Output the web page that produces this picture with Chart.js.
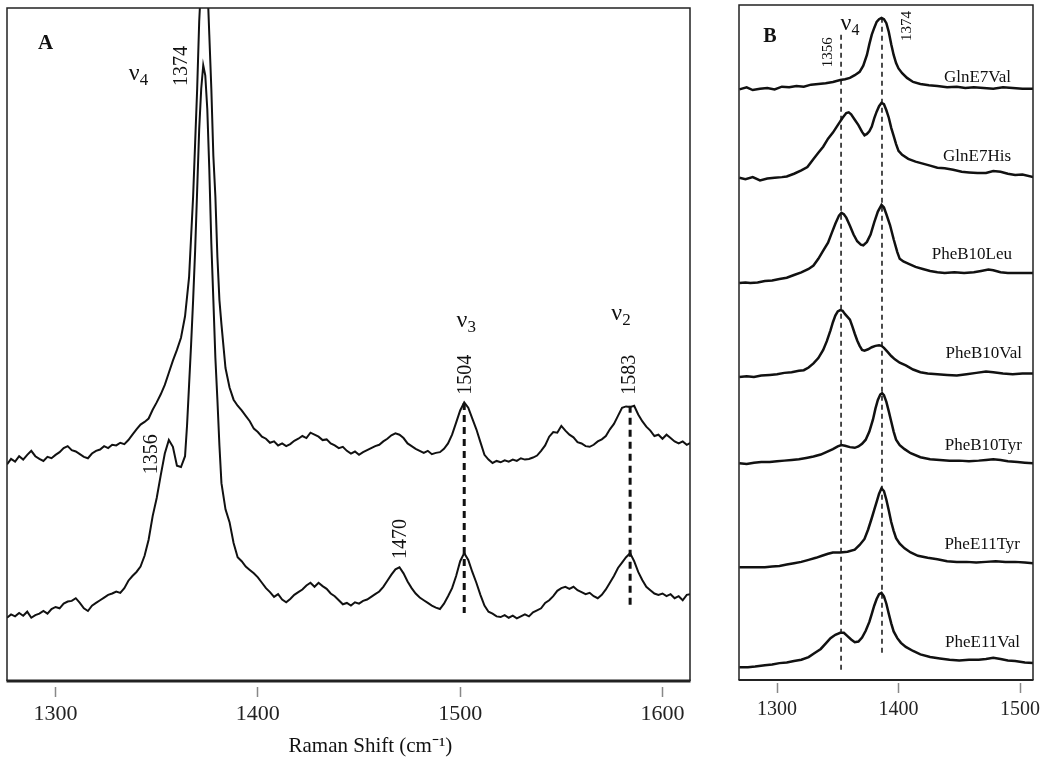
<!DOCTYPE html>
<html>
<head>
<meta charset="utf-8">
<script src="https://cdn.jsdelivr.net/npm/chart.js@4.4.1/dist/chart.umd.min.js"></script>
<style>
    body { margin: 0; background: #fff; }
    canvas { position: absolute; top: 0; }
</style>
</head>
<body>
<canvas id="chartA" width="700" height="768" style="left:0"></canvas>
<canvas id="chartB" width="350" height="768" style="left:700px"></canvas>
<script>
// --------------------------------------------------
//  DATA (Raman shift cm-1, intensity arbitrary units)
// --------------------------------------------------
const ticksA = [1300, 1400, 1500, 1600];
const ticksB = [1300, 1400, 1500];

// Panel A: upper spectrum
const upperSpectrum = [
    [1276,32.2],[1278,33.0],[1280,32.6],[1282,33.4],[1284,32.9],[1286,33.6],[1288,34.2],[1290,33.4],
    [1292,33.0],[1294,32.7],[1296,33.3],[1298,33.1],[1300,33.6],[1302,34.0],[1304,34.6],[1306,34.9],
    [1308,34.3],[1310,34.1],[1312,33.7],[1314,33.3],[1316,33.1],[1318,33.8],[1320,34.2],[1322,34.4],
    [1324,34.9],[1326,34.6],[1328,35.1],[1330,35.0],[1332,35.4],[1334,35.2],[1336,35.8],[1338,36.6],
    [1340,37.4],[1342,38.1],[1344,38.5],[1346,39.0],[1348,40.3],[1350,41.4],[1352,42.6],[1354,44.0],
    [1356,45.8],[1358,47.6],[1360,49.2],[1362,51.0],[1364,54.2],[1366,60.0],[1367,66.0],[1368,72.0],
    [1369,80.0],[1370,88.0],[1371,98.0],[1372,104],[1373,106],[1374,106],[1375,104],[1376,96],
    [1377,88],[1378,78],[1379,72],[1380,63],[1381,56.6],[1382,53.0],[1384,46.5],[1386,43.6],
    [1388,41.8],[1390,40.9],[1392,40.2],[1394,39.4],[1396,38.6],[1398,37.5],[1400,37.0],[1402,36.3],
    [1404,36.0],[1406,35.4],[1408,35.6],[1410,35.0],[1412,35.3],[1414,34.9],[1416,35.2],[1418,35.7],
    [1420,36.0],[1422,36.4],[1424,36.1],[1426,36.9],[1428,36.6],[1430,36.3],[1432,35.8],[1434,35.9],
    [1436,35.3],[1438,35.0],[1440,34.6],[1442,34.8],[1444,34.2],[1446,33.8],[1448,34.1],[1450,33.6],
    [1452,34.0],[1454,34.3],[1456,34.6],[1458,34.9],[1460,35.1],[1462,35.6],[1464,36.0],[1466,36.5],
    [1468,36.8],[1470,36.6],[1472,36.1],[1474,35.3],[1476,34.9],[1478,34.5],[1480,34.2],[1482,33.9],
    [1484,34.2],[1486,33.7],[1488,33.9],[1490,34.0],[1492,34.5],[1494,35.3],[1496,36.6],[1498,38.4],
    [1500,40.2],[1502,41.4],[1504,40.6],[1506,39.0],[1508,37.4],[1510,35.5],[1512,33.6],[1514,32.9],
    [1516,32.4],[1518,32.7],[1520,32.5],[1522,32.8],[1524,32.6],[1526,32.9],[1528,32.7],[1530,33.1],
    [1532,32.9],[1534,33.0],[1536,33.2],[1538,33.5],[1540,34.2],[1542,35.0],[1544,36.3],[1546,37.0],
    [1548,36.9],[1550,37.9],[1552,37.2],[1554,36.6],[1556,36.2],[1558,35.5],[1560,35.3],[1562,34.9],
    [1564,34.8],[1566,35.1],[1568,35.6],[1570,35.9],[1572,36.4],[1574,37.4],[1576,38.2],[1578,39.4],
    [1580,40.6],[1582,40.8],[1584,40.7],[1586,40.9],[1588,39.6],[1590,38.6],[1592,37.8],[1594,37.2],
    [1596,36.4],[1598,36.6],[1600,36.0],[1602,36.6],[1604,36.1],[1606,35.6],[1608,35.3],[1610,35.6],
    [1612,35.1],[1614,35.4]
];

// Panel A: lower spectrum
const lowerSpectrum = [
    [1276,9.4],[1278,9.9],[1280,9.6],[1282,10.1],[1284,9.7],[1286,10.3],[1288,9.4],[1290,9.8],
    [1292,10.0],[1294,10.4],[1296,10.0],[1298,10.7],[1300,11.0],[1302,10.8],[1304,11.5],[1306,11.8],
    [1308,11.9],[1310,12.3],[1312,11.6],[1314,10.8],[1316,10.4],[1318,11.2],[1320,11.6],[1322,12.0],
    [1324,12.4],[1326,12.8],[1328,13.0],[1330,13.3],[1332,13.1],[1334,13.8],[1336,14.9],[1338,15.6],
    [1340,16.2],[1342,17.0],[1344,18.6],[1346,21.0],[1348,24.5],[1350,27.2],[1352,30.6],[1354,33.8],
    [1356,35.8],[1358,34.8],[1360,32.0],[1362,31.8],[1364,33.4],[1365,38.0],[1366,44.0],[1367,50.0],
    [1368,56.6],[1369,64.0],[1370,73.0],[1371,82.0],[1372,88.0],[1373,91.5],[1374,90.0],[1375,85.0],
    [1376,76.0],[1377,65.0],[1378,56.6],[1379,48.0],[1380,41.8],[1381,35.0],[1382,29.4],[1384,25.5],
    [1386,23.6],[1388,20.5],[1390,18.4],[1392,17.8],[1394,17.0],[1396,16.5],[1398,16.0],[1400,15.4],
    [1402,14.6],[1404,13.8],[1406,13.2],[1408,12.5],[1410,12.9],[1412,12.1],[1414,11.7],[1416,12.2],
    [1418,12.8],[1420,13.2],[1422,13.6],[1424,14.2],[1426,14.6],[1428,14.0],[1430,14.6],[1432,14.1],
    [1434,13.7],[1436,13.0],[1438,12.6],[1440,12.0],[1442,11.4],[1444,11.6],[1446,11.2],[1448,11.7],
    [1450,11.5],[1452,11.9],[1454,12.1],[1456,12.5],[1458,12.9],[1460,13.3],[1462,14.0],[1464,14.9],
    [1466,15.8],[1468,16.6],[1470,16.9],[1472,16.0],[1474,14.8],[1476,13.8],[1478,13.0],[1480,12.4],
    [1482,12.0],[1484,11.6],[1486,11.2],[1488,10.9],[1490,10.7],[1492,11.5],[1494,12.6],[1496,13.8],
    [1498,15.6],[1500,17.8],[1502,19.0],[1504,18.0],[1506,16.2],[1508,14.6],[1510,12.8],[1512,11.2],
    [1514,10.3],[1516,10.0],[1518,9.6],[1520,9.5],[1522,9.8],[1524,9.4],[1526,9.7],[1528,9.3],
    [1530,9.6],[1532,9.9],[1534,9.6],[1536,10.2],[1538,10.5],[1540,10.8],[1542,11.6],[1544,12.0],
    [1546,12.6],[1548,13.4],[1550,13.8],[1552,14.0],[1554,13.7],[1556,14.0],[1558,13.5],[1560,13.2],
    [1562,12.9],[1564,13.1],[1566,12.6],[1568,12.3],[1570,12.8],[1572,13.6],[1574,14.6],[1576,15.6],
    [1578,16.8],[1580,17.6],[1582,18.4],[1584,19.0],[1586,17.8],[1588,16.2],[1590,15.0],[1592,14.0],
    [1594,13.5],[1596,13.0],[1598,12.8],[1600,13.0],[1602,12.6],[1604,12.9],[1606,12.3],[1608,12.6],
    [1610,12.0],[1612,12.8],[1614,12.9]
];

// band markers: shift, top and bottom intensity
const markersA = [[1502, 41.3, 10.1], [1584, 40.9, 11.0]];
const markersB = [[1352.7, 95.6, 1.0], [1386.4, 98.1, 3.7]];

// Panel B spectra
const glnE7Val = [
    [1269,87.5],[1275,87.8],[1280,87.4],[1286,87.6],[1292,87.7],[1298,87.5],[1304,87.9],[1310,87.8],
    [1316,88.0],[1322,87.9],[1328,88.2],[1334,88.3],[1340,88.4],[1346,88.6],[1352,88.9],[1356,89.0],
    [1360,89.2],[1364,89.6],[1368,90.1],[1371,91.0],[1374,92.6],[1376,94.2],[1378,95.6],[1380,96.6],
    [1382,97.5],[1384,97.9],[1386,98.1],[1388,97.9],[1390,97.3],[1392,96.0],[1394,94.2],[1396,92.6],
    [1398,91.4],[1400,90.6],[1403,89.9],[1407,89.2],[1412,88.6],[1418,88.3],[1425,88.1],[1432,88.0],
    [1440,87.8],[1448,87.9],[1455,87.7],[1462,87.8],[1470,87.7],[1478,87.6],[1486,87.8],[1494,87.7],
    [1502,87.6],[1511,87.6]
];
const glnE7His = [
    [1269,74.4],[1274,74.2],[1280,74.5],[1286,74.0],[1292,74.3],[1298,74.4],[1304,74.5],[1308,74.6],
    [1314,75.0],[1320,75.5],[1325,76.0],[1330,77.2],[1334,78.1],[1338,79.0],[1342,80.2],[1346,81.1],
    [1350,82.2],[1354,83.3],[1357,84.0],[1359,84.1],[1361,83.8],[1364,83.0],[1367,82.2],[1370,81.2],
    [1372,80.7],[1374,80.9],[1376,81.3],[1378,82.0],[1380,83.2],[1382,84.2],[1384,85.0],[1386,85.5],
    [1388,85.3],[1390,84.4],[1392,83.3],[1394,81.8],[1396,80.6],[1398,79.4],[1400,78.4],[1403,77.8],
    [1408,77.2],[1414,76.8],[1420,76.5],[1426,76.2],[1432,75.9],[1438,75.8],[1445,75.6],[1452,75.3],
    [1458,75.2],[1465,75.1],[1472,75.1],[1478,75.4],[1484,75.3],[1490,75.0],[1496,74.8],[1502,74.9],
    [1511,74.5]
];
const pheB10Leu = [
    [1269,58.8],[1274,58.9],[1278,58.8],[1284,58.9],[1290,59.1],[1296,59.2],[1302,59.4],[1308,59.6],
    [1314,60.0],[1320,60.4],[1326,60.9],[1330,61.4],[1334,62.4],[1338,63.6],[1342,64.8],[1345,66.2],
    [1348,67.6],[1351,68.8],[1353,69.2],[1355,69.0],[1357,68.5],[1360,67.3],[1363,66.0],[1366,65.0],
    [1369,64.5],[1371,64.4],[1374,64.9],[1377,66.0],[1380,67.8],[1383,69.4],[1386,70.4],[1388,70.0],
    [1390,69.0],[1393,67.4],[1396,65.3],[1399,63.4],[1401,62.4],[1404,62.0],[1408,61.7],[1414,61.2],
    [1420,60.9],[1426,60.6],[1432,60.4],[1438,60.3],[1446,60.4],[1454,60.3],[1462,60.4],[1468,60.6],
    [1474,60.8],[1478,60.7],[1484,60.4],[1490,60.3],[1498,60.3],[1505,60.3],[1511,60.3]
];
const pheB10Val = [
    [1269,44.9],[1275,45.0],[1281,44.9],[1287,45.1],[1294,45.2],[1300,45.3],[1306,45.5],[1312,45.6],
    [1318,45.8],[1322,45.9],[1326,46.3],[1330,46.9],[1334,47.7],[1338,48.9],[1341,50.2],[1344,51.8],
    [1346,53.0],[1348,54.0],[1350,54.6],[1352,54.8],[1354,54.7],[1356,54.2],[1358,53.8],[1360,53.4],
    [1362,52.4],[1364,51.3],[1366,50.3],[1368,49.5],[1370,48.9],[1372,48.8],[1375,49.0],[1378,49.3],
    [1381,49.5],[1384,49.6],[1386,49.5],[1388,49.2],[1391,48.6],[1394,48.0],[1397,47.5],[1401,47.0],
    [1406,46.6],[1412,46.0],[1418,45.6],[1424,45.4],[1432,45.3],[1440,45.2],[1448,45.1],[1456,45.3],
    [1464,45.5],[1472,45.7],[1478,45.6],[1486,45.4],[1494,45.3],[1502,45.4],[1511,45.4]
];
const pheB10Tyr = [
    [1269,32.1],[1275,32.0],[1281,32.2],[1287,32.3],[1294,32.3],[1300,32.4],[1306,32.5],[1312,32.6],
    [1318,32.7],[1324,32.9],[1330,33.1],[1336,33.4],[1341,33.8],[1346,34.2],[1350,34.6],[1353,34.8],
    [1356,34.7],[1360,34.5],[1364,34.4],[1367,34.6],[1370,35.0],[1373,35.6],[1376,36.8],[1379,38.6],
    [1381,40.2],[1383,41.5],[1385,42.3],[1386.5,42.5],[1388,42.2],[1390,41.2],[1392,39.8],[1394,38.3],
    [1396,36.8],[1398,35.6],[1401,34.8],[1405,34.2],[1410,33.6],[1418,33.0],[1426,32.7],[1434,32.6],
    [1442,32.5],[1450,32.5],[1458,32.4],[1466,32.5],[1472,32.6],[1478,32.7],[1484,32.6],[1490,32.4],
    [1498,32.3],[1504,32.2],[1511,32.1]
];
const pheE11Tyr = [
    [1269,16.7],[1276,16.7],[1282,16.7],[1290,16.7],[1296,16.8],[1302,16.9],[1308,17.1],[1314,17.3],
    [1320,17.5],[1326,17.8],[1332,18.1],[1337,18.4],[1342,18.7],[1346,18.9],[1352,18.9],[1358,19.0],
    [1364,19.3],[1368,20.0],[1372,20.9],[1375,22.3],[1378,24.0],[1380,25.2],[1382,26.4],[1384,27.6],
    [1386,28.4],[1388,28.0],[1390,26.7],[1392,25.1],[1394,23.4],[1396,22.1],[1398,21.0],[1401,20.2],
    [1405,19.5],[1410,18.9],[1416,18.4],[1424,18.1],[1432,17.9],[1440,17.6],[1448,17.5],[1456,17.5],
    [1464,17.4],[1472,17.5],[1480,17.6],[1488,17.5],[1496,17.5],[1504,17.4],[1511,17.3]
];
const pheE11Val = [
    [1269,1.9],[1276,1.9],[1282,2.0],[1290,2.2],[1296,2.3],[1302,2.5],[1308,2.6],[1314,2.8],
    [1320,3.0],[1326,3.4],[1331,4.0],[1336,4.6],[1340,5.4],[1344,6.2],[1348,6.7],[1352,7.0],
    [1355,7.0],[1358,6.5],[1361,6.0],[1364,5.6],[1367,5.7],[1370,6.3],[1373,7.3],[1376,8.6],
    [1378,9.8],[1380,11.0],[1382,12.0],[1384,12.7],[1386,12.9],[1388,12.4],[1390,11.3],[1392,9.8],
    [1394,8.4],[1396,7.2],[1399,6.2],[1402,5.5],[1406,4.9],[1412,4.3],[1418,3.8],[1426,3.4],
    [1434,3.2],[1442,3.0],[1450,2.9],[1458,3.0],[1466,3.0],[1472,3.1],[1478,3.3],[1484,3.1],
    [1490,2.9],[1496,2.8],[1504,2.6],[1511,2.5]
];
const spectraB = [glnE7Val, glnE7His, pheB10Leu, pheB10Val, pheB10Tyr, pheE11Tyr, pheE11Val];

// --------------------------------------------------
//  TEXT NOTES (placed in data units)
// --------------------------------------------------
const SERIF = "'Liberation Serif', 'Times New Roman', serif";

const notesA = [
    { text: "A", x: 1295.1, y: 94.7, font: "bold 21px " + SERIF },
    { text: "ν", sub: "4", x: 1341, y: 89.3, font: "24px " + SERIF, subFont: "17px " + SERIF, base: true },
    { text: "1374", x: 1362.5, y: 91.4, rotate: -90, font: "20px " + SERIF },
    { text: "1356", x: 1347.7, y: 33.7, rotate: -90, font: "20px " + SERIF },
    { text: "1470", x: 1470.4, y: 21.1, rotate: -90, font: "20px " + SERIF },
    { text: "ν", sub: "3", x: 1503, y: 52.6, font: "24px " + SERIF, subFont: "17px " + SERIF, base: true },
    { text: "1504", x: 1503, y: 45.5, rotate: -90, font: "20px " + SERIF },
    { text: "ν", sub: "2", x: 1579.5, y: 53.6, font: "24px " + SERIF, subFont: "17px " + SERIF, base: true },
    { text: "1583", x: 1584, y: 45.5, rotate: -90, font: "20px " + SERIF },
    { text: "Raman Shift (cm⁻¹)", x: 1455.6, y: -9.8, font: "21px " + SERIF }
];

const notesB = [
    { text: "B", x: 1294.2, y: 95.3, font: "bold 20px " + SERIF },
    { text: "ν", sub: "4", x: 1360.1, y: 96.3, font: "24px " + SERIF, subFont: "16px " + SERIF, base: true },
    { text: "1356", x: 1341.6, y: 93.0, rotate: -90, font: "15px " + SERIF },
    { text: "1374", x: 1407.4, y: 96.9, rotate: -90, font: "15px " + SERIF },
    { text: "GlnE7Val", x: 1492.6, y: 89.2, align: "right", font: "17px " + SERIF },
    { text: "GlnE7His", x: 1492.6, y: 77.5, align: "right", font: "17px " + SERIF },
    { text: "PheB10Leu", x: 1493.4, y: 63.0, align: "right", font: "17px " + SERIF },
    { text: "PheB10Val", x: 1501.6, y: 48.3, align: "right", font: "17px " + SERIF },
    { text: "PheB10Tyr", x: 1501.6, y: 34.7, align: "right", font: "17px " + SERIF },
    { text: "PheE11Tyr", x: 1500, y: 20.1, align: "right", font: "17px " + SERIF },
    { text: "PheE11Val", x: 1500, y: 5.6, align: "right", font: "17px " + SERIF }
];

// --------------------------------------------------
//  PLUGINS: frame box and text notes
// --------------------------------------------------
const framePlugin = {
    id: "frame",
    afterDatasetsDraw(chart, args, opts) {
        const { ctx, chartArea: a } = chart;
        ctx.save();
        ctx.strokeStyle = "#222";
        ctx.lineWidth = opts.width;
        ctx.beginPath();
        ctx.moveTo(a.left, a.bottom);
        ctx.lineTo(a.left, a.top);
        ctx.lineTo(a.right, a.top);
        ctx.lineTo(a.right, a.bottom);
        ctx.stroke();
        ctx.lineWidth = opts.bottomWidth;
        ctx.beginPath();
        ctx.moveTo(a.left - 0.5, a.bottom);
        ctx.lineTo(a.right + 0.5, a.bottom);
        ctx.stroke();
        ctx.restore();
    }
};

const notesPlugin = {
    id: "notes",
    afterDraw(chart, args, opts) {
        const { ctx, scales: { x, y } } = chart;
        (opts.items || []).forEach(n => {
            ctx.save();
            ctx.translate(x.getPixelForValue(n.x), y.getPixelForValue(n.y));
            if (n.rotate) ctx.rotate(n.rotate * Math.PI / 180);
            ctx.fillStyle = "#111";
            ctx.font = n.font;
            ctx.textBaseline = n.base ? "alphabetic" : "middle";
            if (n.sub) {
                const w = ctx.measureText(n.text).width;
                ctx.font = n.subFont;
                const ws = ctx.measureText(n.sub).width;
                const start = -(w + ws) / 2;
                ctx.textAlign = "left";
                ctx.fillText(n.sub, start + w, 5);
                ctx.font = n.font;
                ctx.fillText(n.text, start, 0);
            } else {
                ctx.textAlign = n.align || "center";
                ctx.fillText(n.text, 0, 0);
            }
            ctx.restore();
        });
    }
};

// --------------------------------------------------
//  HELPERS
// --------------------------------------------------
const toPoints = arr => arr.map(([x, y]) => ({ x, y }));

function spectrumSet(arr, width) {
    return {
        data: toPoints(arr),
        borderColor: "#111",
        borderWidth: width,
        pointRadius: 0,
        tension: 0
    };
}

function markerSet(m, width, dash) {
    return {
        data: [{ x: m[0], y: m[1] }, { x: m[0], y: m[2] }],
        borderColor: "#111",
        borderWidth: width,
        borderDash: dash,
        pointRadius: 0
    };
}

// tick marks sit a few pixels below the axis line (gap, then mark)
function xScale(min, max, ticks, fontSize, axisHeight, gap, mark, pad) {
    return {
        type: "linear",
        min: min,
        max: max,
        afterBuildTicks: s => { s.ticks = ticks.map(v => ({ value: v })); },
        afterFit: s => { s.height = axisHeight; },
        grid: {
            drawOnChartArea: false,
            drawTicks: true,
            tickLength: gap + mark,
            tickBorderDash: [0, gap, mark, 40],
            tickColor: "#888",
            tickWidth: 1.5
        },
        border: { display: false },
        ticks: {
            color: "#222",
            padding: pad,
            maxRotation: 0,
            font: { family: SERIF, size: fontSize },
            callback: v => String(v)
        }
    };
}

function baseOptions(padding, x, frame, notes) {
    return {
        responsive: false,
        animation: false,
        layout: { padding: padding },
        plugins: {
            legend: { display: false },
            tooltip: { enabled: false },
            frame: frame,
            notes: { items: notes }
        },
        scales: {
            x: x,
            y: { display: false, min: 0, max: 100 }
        }
    };
}

// --------------------------------------------------
//  PANEL A
// --------------------------------------------------
new Chart(document.getElementById("chartA"), {
    type: "line",
    data: {
        datasets: [
            spectrumSet(upperSpectrum, 2),
            spectrumSet(lowerSpectrum, 2),
            ...markersA.map(m => markerSet(m, 3, [7, 5]))
        ]
    },
    options: baseOptions(
        { top: 8, left: 7, right: 10, bottom: 0 },
        xScale(1276, 1613.6, ticksA, 22, 87, 6, 10, 4),
        { width: 1.5, bottomWidth: 3 },
        notesA
    ),
    plugins: [framePlugin, notesPlugin]
});

// --------------------------------------------------
//  PANEL B
// --------------------------------------------------
new Chart(document.getElementById("chartB"), {
    type: "line",
    data: {
        datasets: [
            ...spectraB.map(s => spectrumSet(s, 2.5)),
            ...markersB.map(m => markerSet(m, 1.5, [5, 4]))
        ]
    },
    options: baseOptions(
        { top: 5, left: 39, right: 17, bottom: 0 },
        xScale(1268.7, 1510.7, ticksB, 20, 88, 3, 10, 5),
        { width: 1.5, bottomWidth: 2 },
        notesB
    ),
    plugins: [framePlugin, notesPlugin]
});
</script>
</body>
</html>
